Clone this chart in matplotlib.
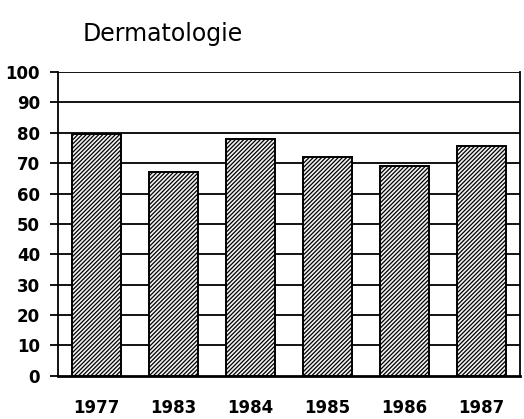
import numpy as np
import matplotlib
matplotlib.use("Agg")
import matplotlib.pyplot as plt

# values
years = ['1977', '1983', '1984', '1985', '1986', '1987']
values = [79.5, 67, 78, 72, 69, 75.5]
yticks = [0, 10, 20, 30, 40, 50, 60, 70, 80, 90, 100]

plt.rcParams['hatch.linewidth'] = 0.9

fig = plt.figure(figsize=(5.24, 4.19), dpi=100)
ax = fig.add_axes([0.111, 0.103, 0.881, 0.725])

x = np.arange(len(years))

# horizontal grid lines behind the bars
for yv in yticks[1:]:
    ax.axhline(yv, color='black', linewidth=1.3, zorder=1)

ax.bar(x, values, width=0.63, color='#f2f2f2', edgecolor='black',
       linewidth=1.4, hatch='////////', zorder=2)

ax.set_xlim(-0.5, 5.5)
ax.set_ylim(0, 100)
ax.set_xticks(x)
ax.set_xticklabels(years, fontsize=12, fontweight='bold')
ax.set_yticks(yticks)
ax.set_yticklabels([str(v) for v in yticks], fontsize=12, fontweight='bold')

ax.tick_params(axis='x', length=0, pad=17)
ax.tick_params(axis='y', length=6, width=1.3, pad=7)

ax.spines['top'].set_visible(False)
ax.spines['left'].set_linewidth(1.3)
ax.spines['right'].set_linewidth(1.3)
ax.spines['bottom'].set_linewidth(2)

fig.text(0.158, 0.92, 'Dermatologie', fontsize=17, ha='left', va='center')

fig.savefig('out.png', dpi=100)
